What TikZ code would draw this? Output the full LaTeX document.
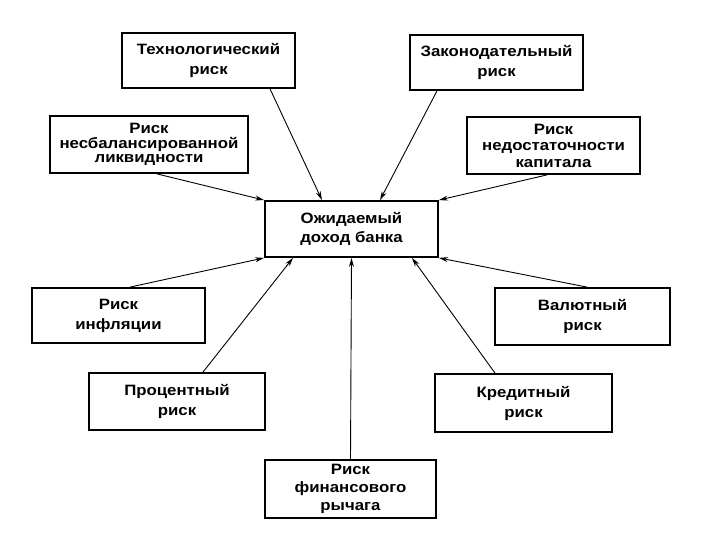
\documentclass[tikz,border=0pt]{standalone}
\usepackage{fontspec}
\setmainfont{Liberation Sans}[FakeStretch=1.12]
\usetikzlibrary{arrows.meta}
\begin{document}
\begin{tikzpicture}[x=1pt,y=-1pt,
  riskbox/.style={draw=black,line width=1.8pt,rectangle,align=center,inner sep=0pt,
    font=\bfseries\fontsize{15}{20}\selectfont},
  skipbox/.style={riskbox,font=\bfseries\fontsize{15}{#1}\selectfont},
  link/.style={draw=black,line width=0.9pt,-{Stealth[length=9pt,width=5pt]}}]
\useasboundingbox[fill=white] (0,0) rectangle (720,540);
\node[riskbox,minimum width=173pt,minimum height=55pt] (tech) at (208.5,60.5) {Технологический\\риск};
\node[skipbox=14.5,minimum width=198pt,minimum height=57pt] (liq) at (149,144.5) {Риск\\несбалансированной\\ликвидности};
\node[riskbox,minimum width=173pt,minimum height=55pt] (leg) at (496.5,62.5) {Законодательный\\риск};
\node[skipbox=16.5,minimum width=173pt,minimum height=57pt] (cap) at (553.5,145.5) {Риск\\недостаточности\\капитала};
\node[skipbox=19,minimum width=173pt,minimum height=56pt] (center) at (351.5,229) {Ожидаемый\\доход банка};
\node[riskbox,minimum width=173pt,minimum height=55pt] (infl) at (118.5,315.5) {Риск\\инфляции};
\node[riskbox,minimum width=176pt,minimum height=57pt] (int) at (177,401.5) {Процентный\\риск};
\node[skipbox=18,minimum width=171pt,minimum height=58pt] (lev) at (350.5,489) {Риск\\финансового\\рычага};
\node[riskbox,minimum width=175pt,minimum height=57pt] (cur) at (582.5,316.5) {Валютный\\риск};
\node[riskbox,minimum width=177pt,minimum height=58pt] (cred) at (523.5,403) {Кредитный\\риск};
\draw[link] ([xshift=61.5pt]tech.south) -- ([xshift=-29.5pt]center.north);
\draw[link] ([xshift=8pt]liq.south) -- (center.north west);
\draw[link] ([xshift=-59.5pt]leg.south) -- ([xshift=28.5pt]center.north);
\draw[link] ([xshift=-6.5pt]cap.south) -- (center.north east);
\draw[link] ([xshift=11.5pt]infl.north) -- (center.south west);
\draw[link] ([xshift=26pt]int.north) -- ([xshift=-58.5pt]center.south);
\draw[link] (lev.north) -- (center.south);
\draw[link] ([xshift=4.5pt]cur.north) -- (center.south east);
\draw[link] ([xshift=-28.5pt]cred.north) -- ([xshift=60.5pt]center.south);
\end{tikzpicture}
\end{document}
